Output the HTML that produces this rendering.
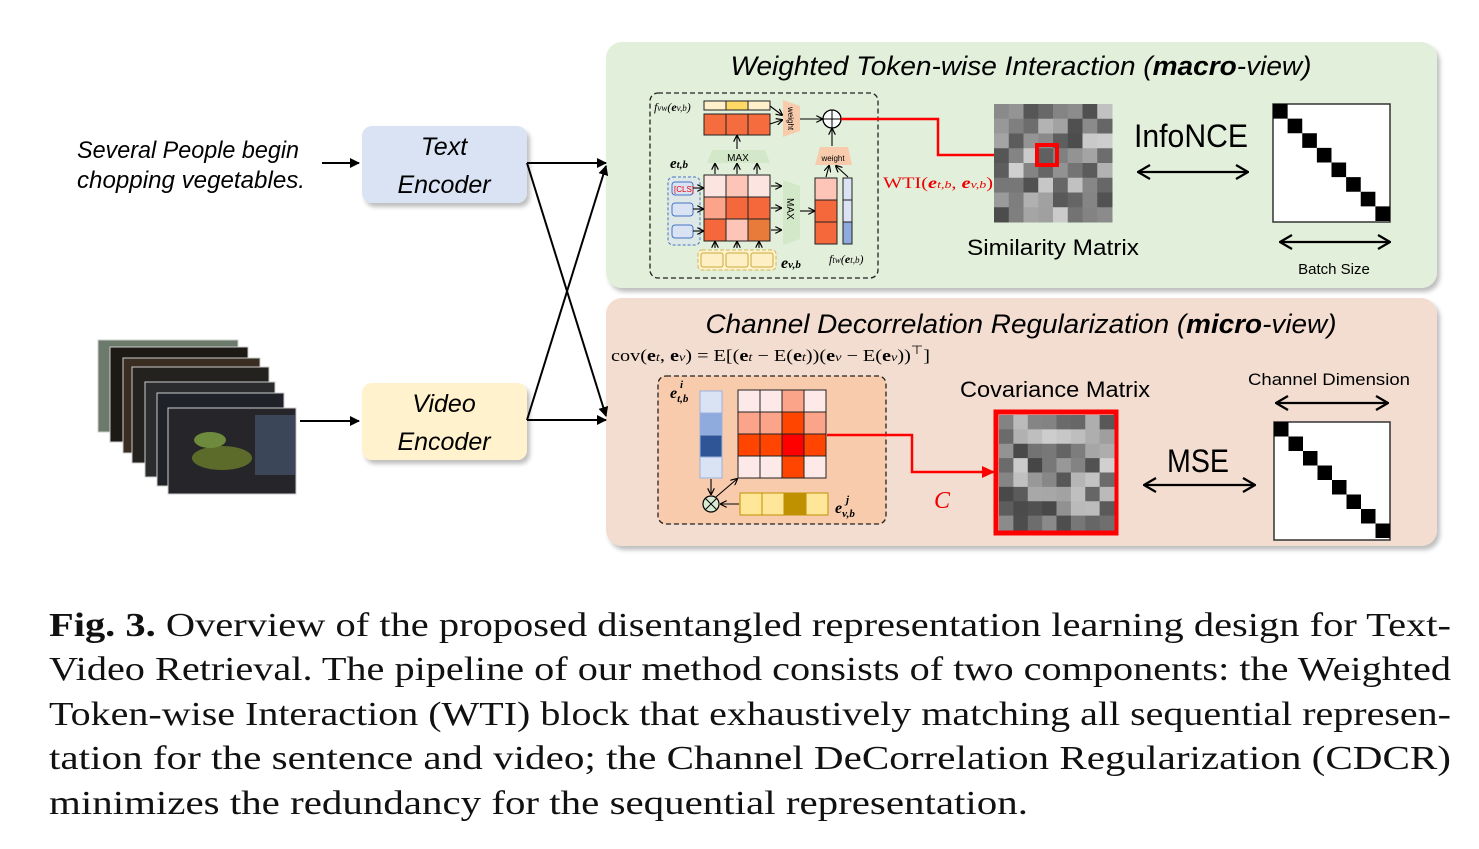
<!DOCTYPE html>
<html><head><meta charset="utf-8"><style>
body{margin:0;background:#fff;width:1479px;height:849px;overflow:hidden;position:relative}
svg{position:absolute;left:0;top:0}
</style></head><body>
<svg width="1479" height="849" xmlns="http://www.w3.org/2000/svg" font-family="Liberation Sans, sans-serif">
<defs>
<marker id="ah" markerWidth="10" markerHeight="10" refX="9" refY="5" orient="auto" markerUnits="userSpaceOnUse"><path d="M0,0 L10,5 L0,10 z" fill="#000"/></marker>
<marker id="ahs" markerWidth="7" markerHeight="7" refX="6" refY="3.5" orient="auto" markerUnits="userSpaceOnUse"><path d="M0,0 L7,3.5 L0,7" fill="none" stroke="#000" stroke-width="1.2"/></marker>
<marker id="ar" markerWidth="14" markerHeight="14" refX="12" refY="7" orient="auto" markerUnits="userSpaceOnUse"><path d="M0,1 L13,7 L0,13 z" fill="#f00"/></marker>
<marker id="op" markerWidth="14" markerHeight="16" refX="13" refY="8" orient="auto" markerUnits="userSpaceOnUse"><path d="M1,1 L13,8 L1,15" fill="none" stroke="#000" stroke-width="2.2"/></marker>
<marker id="opr" markerWidth="14" markerHeight="16" refX="1" refY="8" orient="auto" markerUnits="userSpaceOnUse"><path d="M13,1 L1,8 L13,15" fill="none" stroke="#000" stroke-width="2.2"/></marker>
<filter id="sh"><feDropShadow dx="3" dy="4" stdDeviation="2" flood-color="#000" flood-opacity="0.25"/></filter>
</defs>

<rect x="606" y="42" width="831" height="246" rx="16" fill="#e2efda" filter="url(#sh)"/>
<rect x="606" y="298" width="831" height="248" rx="16" fill="#f2ddd0" filter="url(#sh)"/>

<text x="1021" y="75" font-size="27" font-style="italic" text-anchor="middle" textLength="581" lengthAdjust="spacingAndGlyphs">Weighted Token-wise Interaction (<tspan font-weight="bold">macro</tspan>-view)</text>
<text x="1021" y="333" font-size="27" font-style="italic" text-anchor="middle" textLength="631" lengthAdjust="spacingAndGlyphs">Channel Decorrelation Regularization (<tspan font-weight="bold">micro</tspan>-view)</text>

<text x="77" y="158" font-size="24" font-style="italic" textLength="222" lengthAdjust="spacingAndGlyphs">Several People begin</text>
<text x="77" y="188" font-size="24" font-style="italic" textLength="228" lengthAdjust="spacingAndGlyphs">chopping vegetables.</text>
<line x1="322" y1="163" x2="359" y2="163" stroke="#000" stroke-width="2" marker-end="url(#ah)"/>

<g stroke="#ccc" stroke-width="1">
<rect x="98" y="340" width="140" height="92" fill="#6b7a6a"/>
<rect x="110" y="347" width="138" height="95" fill="#1d1a16"/>
<rect x="123" y="358" width="137" height="95" fill="#3a2e22"/>
<rect x="132" y="367" width="137" height="96" fill="#24221e"/>
<rect x="145" y="382" width="130" height="95" fill="#2a2c2e"/>
<rect x="157" y="393" width="127" height="93" fill="#1f2228"/>
<rect x="168" y="408" width="128" height="86" fill="#26262a"/>
</g>
<ellipse cx="222" cy="458" rx="30" ry="12" fill="#5c6a2a"/>
<ellipse cx="210" cy="440" rx="16" ry="8" fill="#6e8a3c"/>
<rect x="255" y="415" width="40" height="60" fill="#3b4658"/>
<line x1="300" y1="421" x2="359" y2="421" stroke="#000" stroke-width="2" marker-end="url(#ah)"/>

<rect x="362" y="126" width="165" height="77" rx="10" fill="#dae3f3" filter="url(#sh)"/>
<text x="444" y="155" font-size="25" font-style="italic" text-anchor="middle">Text</text>
<text x="444" y="193" font-size="25" font-style="italic" text-anchor="middle">Encoder</text>
<rect x="362" y="383" width="165" height="77" rx="10" fill="#fff2cc" filter="url(#sh)"/>
<text x="444" y="412" font-size="25" font-style="italic" text-anchor="middle">Video</text>
<text x="444" y="450" font-size="25" font-style="italic" text-anchor="middle">Encoder</text>

<g stroke="#000" stroke-width="2" fill="none">
<line x1="527" y1="163" x2="606" y2="163" marker-end="url(#ah)"/>
<line x1="527" y1="163" x2="606" y2="416" marker-end="url(#ah)"/>
<line x1="527" y1="420" x2="606" y2="420" marker-end="url(#ah)"/>
<line x1="527" y1="420" x2="606" y2="166" marker-end="url(#ah)"/>
</g>

<rect x="650" y="93" width="228" height="185" rx="8" fill="none" stroke="#222" stroke-width="1.3" stroke-dasharray="5,3"/>
<text x="654" y="111" font-size="12" font-family="Liberation Serif,serif" font-style="italic">f<tspan font-size="9">vw</tspan>(<tspan font-weight="bold">e</tspan><tspan font-size="9">v,b</tspan>)</text>
<g stroke="#222" stroke-width="1">
<rect x="704" y="101" width="22" height="9" fill="#fff0cc"/><rect x="726" y="101" width="22" height="9" fill="#ffd966"/><rect x="748" y="101" width="22" height="9" fill="#fff0cc"/>
<rect x="704" y="114" width="22" height="21" fill="#f56c3f"/><rect x="726" y="114" width="22" height="21" fill="#f56c3f"/><rect x="748" y="114" width="22" height="21" fill="#f56c3f"/>
</g>
<polygon points="783,100 800,106 800,131 783,137" fill="#f8cbad"/>
<text x="788" y="107" font-size="8" transform="rotate(90 788 107)">weight</text>
<circle cx="832" cy="119" r="9" fill="#fff" stroke="#000" stroke-width="1.3"/>
<line x1="823" y1="119" x2="841" y2="119" stroke="#000"/><line x1="832" y1="110" x2="832" y2="128" stroke="#000"/>
<polygon points="712,150 765,150 770,163 707,163" fill="#d3e8c8"/>
<text x="738" y="161" font-size="10" text-anchor="middle">MAX</text>
<polygon points="820,147 848,147 852,165 815,165" fill="#f8cbad"/>
<text x="833" y="161" font-size="8" text-anchor="middle">weight</text>
<text x="670" y="168" font-size="15" font-family="Liberation Serif,serif" font-weight="bold" font-style="italic">e<tspan font-size="11">t,b</tspan></text>
<rect x="668" y="177" width="32" height="68" rx="5" fill="#dae3f3" fill-opacity=".5" stroke="#4472c4" stroke-dasharray="3,2"/>
<g stroke="#4472c4" stroke-width="1" fill="#dae3f3">
<rect x="672" y="182" width="21" height="13" rx="3"/><rect x="672" y="203" width="21" height="13" rx="3"/><rect x="672" y="225" width="21" height="13" rx="3"/>
</g>
<text x="674" y="192" font-size="8" fill="#e00">[CLS]</text>
<g stroke="#222" stroke-width="1">
<rect x="704" y="175" width="22" height="22" fill="#fce4e0"/><rect x="726" y="175" width="22" height="22" fill="#fcc5b8"/><rect x="748" y="175" width="22" height="22" fill="#fce4e0"/>
<rect x="704" y="197" width="22" height="22" fill="#fca48a"/><rect x="726" y="197" width="22" height="22" fill="#f4683c"/><rect x="748" y="197" width="22" height="22" fill="#f4683c"/>
<rect x="704" y="219" width="22" height="22" fill="#f4683c"/><rect x="726" y="219" width="22" height="22" fill="#fcc5b8"/><rect x="748" y="219" width="22" height="22" fill="#e87a3a"/>
<rect x="815" y="178" width="22" height="22" fill="#fcc5b8"/><rect x="815" y="200" width="22" height="22" fill="#f4683c"/><rect x="815" y="222" width="22" height="22" fill="#f4683c"/>
<rect x="843" y="178" width="9" height="22" fill="#dae3f3"/><rect x="843" y="200" width="9" height="22" fill="#dae3f3"/><rect x="843" y="222" width="9" height="22" fill="#8faadc"/>
</g>
<polygon points="783,180 800,186 800,239 783,245" fill="#d3e8c8"/>
<text x="787" y="198" font-size="10" transform="rotate(90 787 198)">MAX</text>
<rect x="698" y="250" width="78" height="20" rx="4" fill="#fff2cc" stroke="#d6b656" stroke-dasharray="4,2"/>
<g fill="#ffefc4" stroke="#c9a93c"><rect x="701" y="253" width="22" height="14" rx="2"/><rect x="726" y="253" width="22" height="14" rx="2"/><rect x="751" y="253" width="22" height="14" rx="2"/></g>
<text x="781" y="268" font-size="16" font-family="Liberation Serif,serif" font-weight="bold" font-style="italic">e<tspan font-size="11">v,b</tspan></text>
<text x="829" y="263" font-size="12" font-family="Liberation Serif,serif" font-style="italic">f<tspan font-size="9">tw</tspan>(<tspan font-weight="bold">e</tspan><tspan font-size="9">t,b</tspan>)</text>
<g stroke="#000" stroke-width="1.1" fill="none" marker-end="url(#ahs)">
<line x1="715" y1="248" x2="715" y2="242"/><line x1="737" y1="248" x2="737" y2="242"/><line x1="759" y1="248" x2="759" y2="242"/>
<line x1="693" y1="188" x2="703" y2="188"/><line x1="693" y1="209" x2="703" y2="209"/><line x1="693" y1="231" x2="703" y2="231"/>
<line x1="715" y1="174" x2="715" y2="164"/><line x1="737" y1="174" x2="737" y2="164"/><line x1="757" y1="174" x2="757" y2="164"/>
<line x1="737" y1="149" x2="737" y2="136"/>
<line x1="771" y1="186" x2="781" y2="186"/><line x1="771" y1="208" x2="781" y2="208"/><line x1="771" y1="230" x2="781" y2="230"/>
<line x1="800" y1="211" x2="814" y2="211"/>
<line x1="770" y1="106" x2="782" y2="115"/><line x1="770" y1="124" x2="782" y2="120"/>
<line x1="800" y1="119" x2="822" y2="119"/>
<line x1="832" y1="146" x2="832" y2="129"/>
<line x1="826" y1="177" x2="829" y2="166"/><line x1="848" y1="177" x2="836" y2="166"/>
</g>
<polyline points="841,119 938,119 938,155 1031,155" fill="none" stroke="#f00" stroke-width="2.5" marker-end="url(#ar)"/>
<text x="883" y="188" font-size="16" font-family="Liberation Serif,serif" fill="#e00" textLength="110" lengthAdjust="spacingAndGlyphs">WTI(<tspan font-style="italic" font-weight="bold">e</tspan><tspan font-size="11" font-style="italic">t,b</tspan>, <tspan font-style="italic" font-weight="bold">e</tspan><tspan font-size="11" font-style="italic">v,b</tspan>)</text>

<g id="sim"></g>
<rect x="1037" y="145" width="20" height="20" fill="none" stroke="#f00" stroke-width="4"/>
<text x="1053" y="255" font-size="22" text-anchor="middle" textLength="172" lengthAdjust="spacingAndGlyphs">Similarity Matrix</text>
<text x="1191" y="147" font-size="32" text-anchor="middle" textLength="114" lengthAdjust="spacingAndGlyphs">InfoNCE</text>
<line x1="1138" y1="172" x2="1248" y2="172" stroke="#000" stroke-width="2.2" marker-end="url(#op)" marker-start="url(#opr)"/>
<rect x="1273" y="104" width="117" height="118" fill="#fff" stroke="#333" stroke-width="1.5"/>
<g id="id1"></g>
<line x1="1280" y1="242" x2="1390" y2="242" stroke="#000" stroke-width="2.2" marker-end="url(#op)" marker-start="url(#opr)"/>
<text x="1334" y="274" font-size="15" text-anchor="middle">Batch Size</text>

<text x="611" y="361" font-size="17" font-family="Liberation Serif,serif" textLength="319" lengthAdjust="spacingAndGlyphs">cov(<tspan font-weight="bold">e</tspan><tspan font-size="12" font-style="italic">t</tspan>, <tspan font-weight="bold">e</tspan><tspan font-size="12" font-style="italic">v</tspan>) = E[(<tspan font-weight="bold">e</tspan><tspan font-size="12" font-style="italic">t</tspan> − E(<tspan font-weight="bold">e</tspan><tspan font-size="12" font-style="italic">t</tspan>))(<tspan font-weight="bold">e</tspan><tspan font-size="12" font-style="italic">v</tspan> − E(<tspan font-weight="bold">e</tspan><tspan font-size="12" font-style="italic">v</tspan>))<tspan font-size="12" dy="-7">⊤</tspan><tspan dy="7">]</tspan></text>
<rect x="658" y="376" width="228" height="148" rx="8" fill="#f8cbad" stroke="#222" stroke-width="1.3" stroke-dasharray="5,3"/>
<text x="670" y="398" font-size="16" font-family="Liberation Serif,serif" font-weight="bold" font-style="italic">e<tspan font-size="11" dy="4">t,b</tspan></text>
<text x="680" y="388" font-size="11" font-family="Liberation Serif,serif" font-weight="bold" font-style="italic">i</text>
<g stroke="#9ab1de" stroke-width="1">
<rect x="700" y="391" width="22" height="22" fill="#dae3f3"/><rect x="700" y="413" width="22" height="22" fill="#8faadc"/><rect x="700" y="435" width="22" height="22" fill="#2f5597"/><rect x="700" y="457" width="22" height="21" fill="#dae3f3"/>
</g>
<g id="cm"></g>
<g stroke="#bf9000" stroke-width="1">
<rect x="740" y="493" width="22" height="22" fill="#ffe699"/><rect x="762" y="493" width="22" height="22" fill="#ffe699"/><rect x="784" y="493" width="22" height="22" fill="#bf9000"/><rect x="806" y="493" width="22" height="22" fill="#ffe699"/>
</g>
<text x="835" y="513" font-size="16" font-family="Liberation Serif,serif" font-weight="bold" font-style="italic">e<tspan font-size="11" dy="4">v,b</tspan></text>
<text x="846" y="503" font-size="11" font-family="Liberation Serif,serif" font-weight="bold" font-style="italic">j</text>
<circle cx="711" cy="504" r="8" fill="#d9ead3" stroke="#000" stroke-width="1.2"/>
<line x1="705" y1="498" x2="717" y2="510" stroke="#000"/><line x1="717" y1="498" x2="705" y2="510" stroke="#000"/>
<g stroke="#000" stroke-width="1.1" fill="none" marker-end="url(#ahs)">
<line x1="711" y1="479" x2="711" y2="494"/><line x1="739" y1="504" x2="721" y2="504"/><line x1="716" y1="497" x2="737" y2="479"/>
</g>
<polyline points="827,435 912,435 912,472 994,472" fill="none" stroke="#f00" stroke-width="2.5" marker-end="url(#ar)"/>
<text x="934" y="508" font-size="24" font-family="Liberation Serif,serif" font-style="italic" fill="#e00">C</text>
<text x="1055" y="397" font-size="22" text-anchor="middle" textLength="190" lengthAdjust="spacingAndGlyphs">Covariance Matrix</text>
<rect x="996" y="412" width="120" height="121" fill="none" stroke="#f00" stroke-width="5"/>
<g id="cov"></g>
<text x="1329" y="385" font-size="17" text-anchor="middle" textLength="162" lengthAdjust="spacingAndGlyphs">Channel Dimension</text>
<line x1="1276" y1="403" x2="1388" y2="403" stroke="#000" stroke-width="2.2" marker-end="url(#op)" marker-start="url(#opr)"/>
<text x="1198" y="472" font-size="32" text-anchor="middle" textLength="62" lengthAdjust="spacingAndGlyphs">MSE</text>
<line x1="1144" y1="485" x2="1255" y2="485" stroke="#000" stroke-width="2.2" marker-end="url(#op)" marker-start="url(#opr)"/>
<rect x="1274" y="422" width="116" height="118" fill="#fff" stroke="#333" stroke-width="1.5"/>
<g id="id2"></g>

<g font-family="Liberation Serif, serif" font-size="34" fill="#111">
<text x="49" y="636" textLength="1402" lengthAdjust="spacingAndGlyphs"><tspan font-weight="bold">Fig. 3.</tspan> Overview of the proposed disentangled representation learning design for Text-</text>
<text x="49" y="680" textLength="1402" lengthAdjust="spacingAndGlyphs">Video Retrieval. The pipeline of our method consists of two components: the Weighted</text>
<text x="49" y="725" textLength="1402" lengthAdjust="spacingAndGlyphs">Token-wise Interaction (WTI) block that exhaustively matching all sequential represen-</text>
<text x="49" y="769" textLength="1402" lengthAdjust="spacingAndGlyphs">tation for the sentence and video; the Channel DeCorrelation Regularization (CDCR)</text>
<text x="49" y="814" textLength="979" lengthAdjust="spacingAndGlyphs">minimizes the redundancy for the sequential representation.</text>
</g>
</svg>
<script>
var NS="http://www.w3.org/2000/svg";
function r(g,x,y,w,h,f,s){var e=document.createElementNS(NS,"rect");e.setAttribute("x",x);e.setAttribute("y",y);e.setAttribute("width",w);e.setAttribute("height",h);e.setAttribute("fill",f);if(s){e.setAttribute("stroke",s);}document.getElementById(g).appendChild(e);}
var seed=7;function rnd(){seed=(seed*9301+49297)%233280;return seed/233280;}
function gray(g,x,y,w){var c=w/8;for(var i=0;i<8;i++)for(var j=0;j<8;j++){var v=Math.floor(70+rnd()*140);r(g,x+j*c,y+i*c,c+0.5,c+0.5,"rgb("+v+","+v+","+v+")");}}
gray("sim",994,104,118);gray("cov",999,415,115);
function ident(g,x,y,w){var c=w/8;for(var i=0;i<8;i++)r(g,x+i*c,y+i*c,c,c,"#000");}
ident("id1",1273,104,117);ident("id2",1274,422,116);
var cm=[["#fde9e7","#fde9e7","#fca48a","#fde9e7"],["#fca48a","#fca48a","#ff4500","#fca48a"],["#ff4500","#ff4500","#ff0000","#ff4500"],["#fde9e7","#fde9e7","#ff4500","#fde9e7"]];
for(var i=0;i<4;i++)for(var j=0;j<4;j++)r("cm",738+j*22,390+i*22,22,22,cm[i][j],"#222");
</script>
</body></html>
